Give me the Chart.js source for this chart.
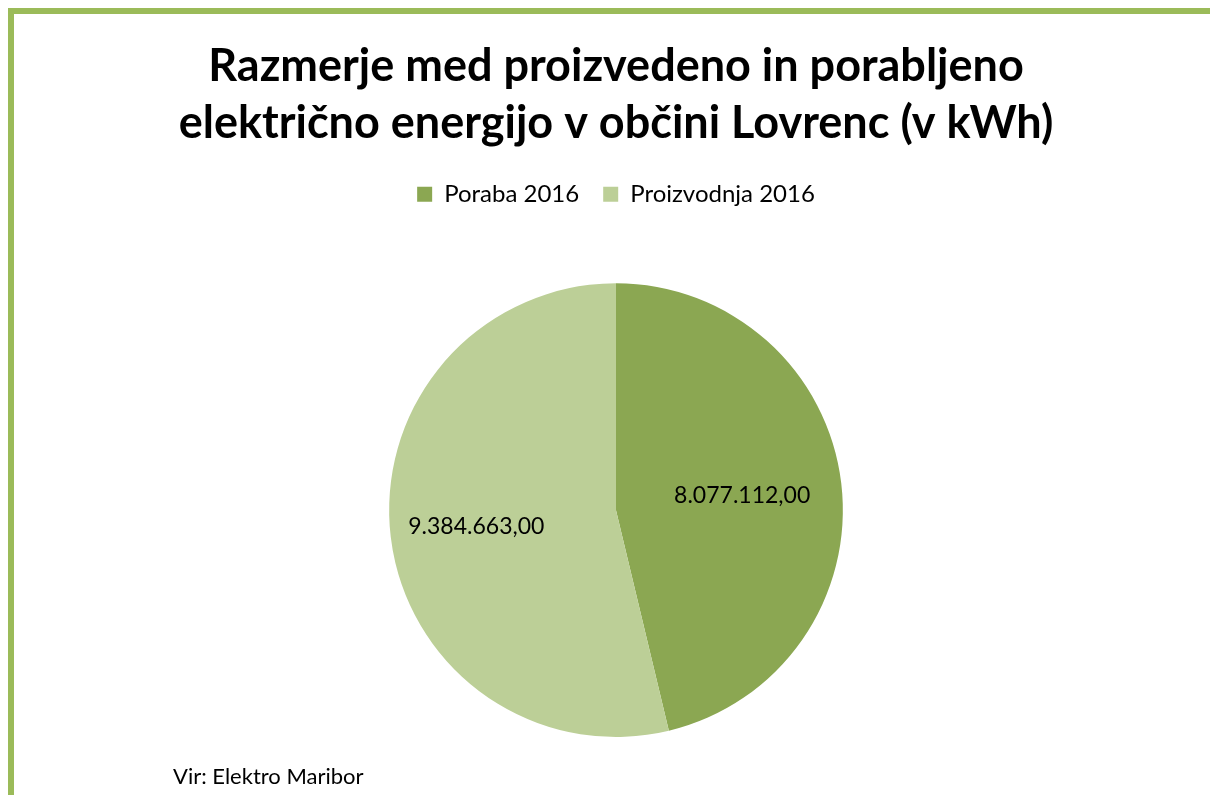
<!DOCTYPE html>
<html>
<head>
<meta charset="utf-8">
<script src="https://cdn.jsdelivr.net/npm/chart.js@4"></script>
<style>
  body { margin: 0; background: #fff; width: 1210px; height: 795px; overflow: hidden; }
  #frame {
    position: absolute; left: 8px; top: 8px; width: 1202px; height: 787px;
    border-top: 6px solid #9bbb59; border-left: 6px solid #9bbb59; box-sizing: border-box;
  }
  #wrap { position: absolute; left: 14px; top: 14px; width: 1196px; height: 781px; }
  #source {
    position: absolute; left: 173px; top: 762px;
    font-family: Lato, "Open Sans", sans-serif; font-size: 22px; color: #000;
  }
</style>
</head>
<body>
<div id="frame"></div>
<div id="wrap"><canvas id="myChart"></canvas></div>
<div id="source">Vir: Elektro Maribor</div>
<script>
const labels = ["Poraba 2016", "Proizvodnja 2016"];
const values = [8077112, 9384663];
const colors = ["#8ba752", "#bccf97"];
const titleLines = ["Razmerje med proizvedeno in porabljeno", "električno energijo v občini Lovrenc (v kWh)"];

function formatSl(v) {
  const s = v.toFixed(2).split(".");
  return s[0].replace(/\B(?=(\d{3})+(?!\d))/g, ".") + "," + s[1];
}

// simple label plugin, no datalabels on the sandbox
const sliceLabels = {
  id: "sliceLabels",
  afterDatasetsDraw(chart) {
    const ctx = chart.ctx;
    const meta = chart.getDatasetMeta(0);
    ctx.save();
    ctx.font = "23px Lato";
    ctx.fillStyle = "#000";
    ctx.textAlign = "center";
    ctx.textBaseline = "middle";
    meta.data.forEach((arc, i) => {
      const mid = (arc.startAngle + arc.endAngle) / 2;
      const r = arc.outerRadius * (i == 0 ? 0.56 : 0.62);
      const x = arc.x + Math.cos(mid) * r;
      const y = arc.y + Math.sin(mid) * r;
      ctx.fillText(formatSl(values[i]), x, y);
    });
    ctx.restore();
  }
};

// extra room under the legend
const legendGap = {
  id: "legendGap",
  beforeInit(chart) {
    const fit = chart.legend.fit;
    chart.legend.fit = function () {
      fit.bind(chart.legend)();
      this.height += 67;
    };
  }
};

const data = {
  labels: labels,
  datasets: [
    {
      data: values,
      backgroundColor: colors,
      borderWidth: 0,
    },
  ],
};

const config = {
  type: "pie",
  data,
  plugins: [sliceLabels, legendGap],
  options: {
    responsive: true,
    maintainAspectRatio: false,
    animation: false,
    layout: { padding: { left: 8, right: 0, top: 24, bottom: 58 } },
    plugins: {
      title: {
        display: true,
        text: titleLines,
        color: "#000",
        font: { family: "Lato", size: 45, weight: "bold", lineHeight: 1.27 },
        padding: { top: 0, bottom: 6 },
      },
      legend: {
        position: "top",
        labels: {
          color: "#000",
          font: { family: "Lato", size: 24 },
          boxWidth: 15,
          boxHeight: 15,
          padding: 24,
        },
      },
      tooltip: { enabled: false },
    },
  },
};

new Chart(document.getElementById("myChart"), config);
</script>
</body>
</html>
